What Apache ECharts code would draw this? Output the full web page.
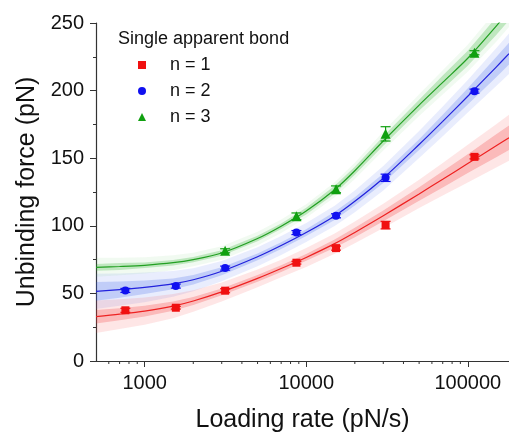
<!DOCTYPE html>
<html>
<head>
<meta charset="utf-8">
<script src="https://cdn.jsdelivr.net/npm/echarts@6/dist/echarts.min.js"></script>
<style>
html, body { margin: 0; padding: 0; background: #fff; }
#chart { width: 509px; height: 439px; }
</style>
</head>
<body>
<div id="chart"></div>
<script>
// measured points, loading rate (pN/s) and unbinding force (pN)
const rates = [760, 1560, 3150, 8700, 15300, 31000, 110000]
const ratesN3 = [3150, 8700, 15300, 31000, 110000]
const forceN1 = [37.5, 39.4, 52, 72.7, 83.5, 100.5, 151]
const forceN2 = [52.2, 55.4, 68.7, 95, 107.4, 135.5, 199.6]
const forceN3 = [81.5, 107, 127, 168, 228]
const errN1 = [1.5, 1, 1.5, 1, 1.5, 2.8, 1.5]
const errN2 = [1.5, 1.5, 1.5, 1.5, 1.5, 2.7, 1.5]
const errN3 = [1.5, 2.5, 2.5, 5.3, 1.5]

// fitted curves
const fitX = [500, 700, 1000, 1500, 2000, 3000, 5000, 7000, 10000, 15000, 20000, 30000, 50000, 70000, 100000, 150000, 180000]
const fitN1 = [32.8, 34.6, 36.9, 40.6, 44.4, 51.1, 61.1, 68.4, 76.6, 86.8, 95.1, 107.4, 123.6, 134.4, 146, 159.2, 165.1]
const fitN2 = [51.5, 52.8, 54.5, 57.1, 60.1, 66.4, 77.1, 85.4, 95, 107.3, 118.1, 135.2, 160.1, 177.2, 195.8, 217.4, 227.3]
const fitN3 = [69.3, 69.9, 70.8, 72.7, 75, 79.9, 90.6, 99.7, 110.9, 126.7, 140.7, 162.7, 189.3, 206.1, 223.9, 247.7, 259]
// half widths of the confidence (dark) and prediction (light) bands
const confN1 = [5, 4.5, 4, 3.5, 3, 2.5, 2.5, 2.5, 2.5, 3, 3.5, 4, 5, 6, 7, 8.5, 9]
const predN1 = [12, 11, 10, 9, 8, 7, 6.5, 6.5, 7, 7.5, 8, 9, 10.5, 12, 14, 16, 17]
const confN2 = [7, 6, 5, 4, 3.5, 3, 2.5, 2.5, 2.5, 3, 3, 3.5, 4, 5, 6, 7.5, 8]
const predN2 = [13, 12, 11, 9.5, 8.5, 7.5, 7, 7, 7, 7.5, 8, 9, 10, 11, 12, 14, 15]
const confN3 = [2.5, 2.5, 2, 2, 2, 2, 2, 2, 2.5, 3, 3, 3.5, 4, 5, 5.5, 6.5, 7]
const predN3 = [7, 6.5, 6, 5.5, 5, 5, 5, 5, 5, 5.5, 6, 7, 8, 9, 10, 11.5, 12]

const xMinorTicks = [600, 700, 800, 900, 2000, 3000, 4000, 5000, 6000, 7000, 8000, 9000,
  20000, 30000, 40000, 50000, 60000, 70000, 80000, 90000]

const FONT = 'Liberation Sans'

// one filled polygon per band, built from all rows of the series
function band(fit, half, color, z) {
    return {
        type: 'custom', silent: true, clip: true, z: z,
        data: fitX.map((x, i) => [x, fit[i] - half[i], fit[i] + half[i]]),
        encode: { x: 0, y: [1, 2] },
        renderItem(params, api) {
            if (params.dataIndexInside !== 0) return
            const n = params.dataInsideLength
            const up = [], low = []
            for (let i = 0; i < n; i++) {
                up.push(api.coord([api.value(0, i), api.value(2, i)]))
                low.push(api.coord([api.value(0, i), api.value(1, i)]))
            }
            return {
                type: 'polygon',
                shape: { points: up.concat(low.reverse()) },
                style: { fill: color }
            }
        }
    }
}

function fitLine(fit, color) {
    return {
        type: 'line', silent: true, z: 4,
        data: fitX.map((x, i) => [x, fit[i]]),
        symbol: 'none', smooth: 0.3,
        lineStyle: { color: color, width: 1.2 }
    }
}

function errorBars(xArr, ys, errs, color) {
    return {
        type: 'custom', silent: true, z: 5,
        data: xArr.map((x, i) => [x, ys[i], errs[i]]),
        encode: { x: 0, y: 1 },
        renderItem(params, api) {
            const x = api.value(0), y = api.value(1), e = api.value(2)
            const top = api.coord([x, y + e])
            const bot = api.coord([x, y - e])
            const w = 5
            const st = { stroke: color, lineWidth: 1.2 }
            return {
                type: 'group',
                children: [
                    { type: 'line', shape: { x1: top[0], y1: top[1], x2: bot[0], y2: bot[1] }, style: st },
                    { type: 'line', shape: { x1: top[0] - w, y1: top[1], x2: top[0] + w, y2: top[1] }, style: st },
                    { type: 'line', shape: { x1: bot[0] - w, y1: bot[1], x2: bot[0] + w, y2: bot[1] }, style: st }
                ]
            }
        }
    }
}

function points(name, xArr, ys, color, symbol, size) {
    return {
        name: name, type: 'scatter', z: 6,
        data: xArr.map((x, i) => [x, ys[i]]),
        symbol: symbol, symbolSize: size,
        itemStyle: { color: color, opacity: 1 }
    }
}

const chart = echarts.init(document.getElementById('chart'))
chart.setOption({
    animation: false,
    textStyle: { fontFamily: FONT },
    grid: { left: 96, right: 0, top: 23, bottom: 78 },
    title: {
        text: 'Single apparent bond',
        left: 118, top: 30, padding: 0,
        textStyle: { fontFamily: FONT, fontSize: 18, fontWeight: 'normal', color: '#111' }
    },
    legend: {
        data: ['n = 1', 'n = 2', 'n = 3'],
        orient: 'vertical', left: 138, top: 56, padding: 0,
        itemWidth: 8, itemHeight: 8, itemGap: 8,
        selectedMode: false,
        textStyle: { fontFamily: FONT, fontSize: 18, lineHeight: 18, color: '#111', padding: [0, 0, 0, 19] }
    },
    xAxis: {
        type: 'log', logBase: 10, min: 500, max: 180000,
        name: 'Loading rate (pN/s)', nameLocation: 'middle', nameGap: 47,
        nameTextStyle: { fontFamily: FONT, fontSize: 25, color: '#111' },
        axisLine: { lineStyle: { color: '#333', width: 1.2 } },
        axisTick: { length: 6, lineStyle: { color: '#333' } },
        axisLabel: {
            fontFamily: FONT, fontSize: 20, color: '#111', margin: 12,
            showMinLabel: false, showMaxLabel: false,
            formatter: v => String(Math.round(v))
        },
        splitLine: { show: false }
    },
    yAxis: {
        type: 'value', min: 0, max: 250, interval: 50,
        name: 'Unbinding force (pN)', nameLocation: 'middle', nameGap: 53,
        nameTextStyle: { fontFamily: FONT, fontSize: 25, color: '#111' },
        axisLine: { show: true, lineStyle: { color: '#333', width: 1.2 } },
        axisTick: { show: true, length: 6, lineStyle: { color: '#333' } },
        minorTick: { show: true, splitNumber: 2, length: 3, lineStyle: { color: '#333' } },
        axisLabel: { fontFamily: FONT, fontSize: 20, color: '#111', margin: 12 },
        splitLine: { show: false }
    },
    series: [
        band(fitN2, predN2, 'rgba(70,110,235,0.12)', 1),
        band(fitN1, predN1, 'rgba(245,60,60,0.13)', 1),
        band(fitN3, predN3, 'rgba(60,180,60,0.07)', 1),
        band(fitN2, confN2, 'rgba(50,90,230,0.22)', 2),
        band(fitN1, confN1, 'rgba(240,50,50,0.25)', 2),
        band(fitN3, confN3, 'rgba(40,175,40,0.25)', 2),
        fitLine(fitN1, '#ee2222'),
        fitLine(fitN2, '#2222dd'),
        fitLine(fitN3, '#22a022'),
        errorBars(rates, forceN1, errN1, '#f01010'),
        errorBars(rates, forceN2, errN2, '#1010f0'),
        errorBars(ratesN3, forceN3, errN3, '#10a010'),
        points('n = 1', rates, forceN1, '#f01010', 'rect', 8),
        points('n = 2', rates, forceN2, '#1010f0', 'circle', 8),
        points('n = 3', ratesN3, forceN3, '#10a010', 'triangle', 10),
        {
            type: 'custom', silent: true, clip: false, z: 3,
            data: xMinorTicks.map(v => [v, 0]),
            encode: { x: 0, y: 1 },
            renderItem(params, api) {
                const p = api.coord([api.value(0), 0])
                return {
                    type: 'line',
                    shape: { x1: p[0], y1: p[1], x2: p[0], y2: p[1] + 3 },
                    style: { stroke: '#333', lineWidth: 1 }
                }
            }
        }
    ]
})
</script>
</body>
</html>
